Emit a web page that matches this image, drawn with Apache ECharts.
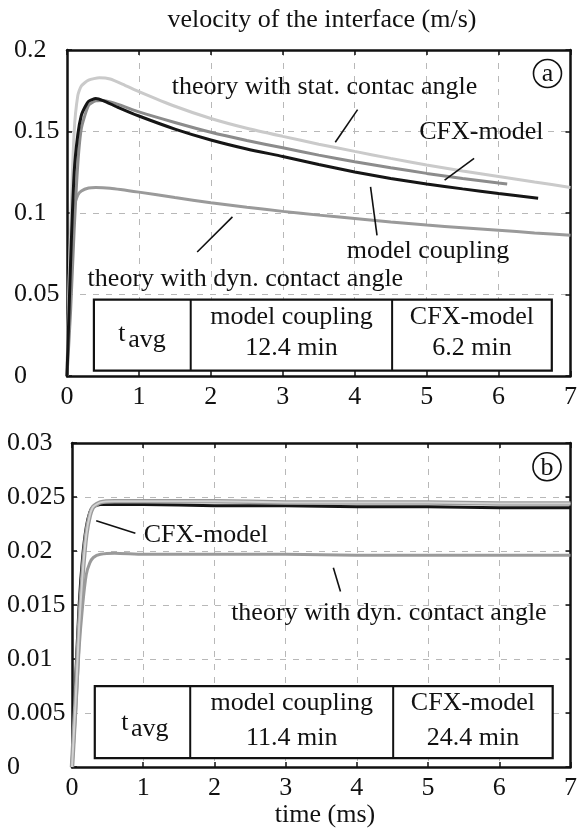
<!DOCTYPE html>
<html>
<head>
<meta charset="utf-8">
<script src="https://cdn.jsdelivr.net/npm/echarts@6/dist/echarts.min.js"></script>
<style>
  html, body { margin: 0; padding: 0; background: #fff; }
  #chart { width: 580px; height: 831px; }
</style>
</head>
<body>
<div id="chart"></div>
<script>
// panel (a): velocity of the interface
const aStatX = [0, 0.05, 0.1, 0.15, 0.2, 0.3, 0.45, 0.6, 0.8, 1, 1.5, 2, 2.5, 3, 3.5, 4, 4.5, 5, 5.5, 6, 6.5, 7];
const aStatY = [0, 0.09, 0.15, 0.172, 0.178, 0.1815, 0.183, 0.1822, 0.1785, 0.1745, 0.1655, 0.158, 0.152, 0.147, 0.1422, 0.1378, 0.1335, 0.1295, 0.1258, 0.1224, 0.119, 0.1157];
const aCfxX = [0, 0.05, 0.1, 0.15, 0.2, 0.3, 0.4, 0.5, 0.7, 1, 1.5, 2, 2.5, 3, 3.5, 4, 4.5, 5, 5.5, 6, 6.12];
const aCfxY = [0, 0.04, 0.09, 0.13, 0.152, 0.166, 0.1688, 0.169, 0.1668, 0.162, 0.1555, 0.1495, 0.1445, 0.14, 0.1355, 0.1315, 0.1278, 0.1243, 0.1212, 0.1184, 0.1178];
const aMcX = [0, 0.05, 0.1, 0.15, 0.2, 0.25, 0.3, 0.4, 0.5, 0.7, 1, 1.5, 2, 2.5, 3, 3.5, 4, 4.5, 5, 5.5, 6, 6.55];
const aMcY = [0, 0.07, 0.125, 0.148, 0.16, 0.165, 0.1685, 0.1702, 0.169, 0.165, 0.1595, 0.1515, 0.1448, 0.1393, 0.1347, 0.1298, 0.1252, 0.1212, 0.1178, 0.1148, 0.112, 0.1091];
const aDynX = [0, 0.03, 0.06, 0.1, 0.15, 0.2, 0.3, 0.4, 0.6, 1, 1.5, 2, 2.5, 3, 3.5, 4, 4.5, 5, 5.5, 6, 6.5, 7];
const aDynY = [0, 0.06, 0.09, 0.104, 0.111, 0.1135, 0.1153, 0.1157, 0.1152, 0.1128, 0.1095, 0.1063, 0.1035, 0.101, 0.0987, 0.0966, 0.0945, 0.0926, 0.091, 0.0894, 0.0878, 0.0863];

// panel (b)
const bX = [0, 0.05, 0.1, 0.15, 0.2, 0.25, 0.3, 0.4, 0.6, 1, 2, 3, 4, 5, 6, 7];
const bMcY = [0, 0.008, 0.015, 0.0195, 0.0222, 0.0236, 0.0241, 0.0243, 0.0243, 0.0243, 0.0242, 0.0242, 0.0241, 0.0241, 0.024, 0.024];
const bCfxY = [0, 0.006, 0.013, 0.018, 0.0215, 0.0233, 0.0241, 0.0245, 0.0246, 0.0246, 0.0246, 0.0245, 0.0245, 0.0245, 0.0244, 0.0244];
const bStatY = [0, 0.006, 0.013, 0.018, 0.0215, 0.0233, 0.0241, 0.0245, 0.0246, 0.0246, 0.0246, 0.0245, 0.0245, 0.0245, 0.0244, 0.0244];
const bDynY = [0, 0.005, 0.011, 0.015, 0.0178, 0.0189, 0.0194, 0.0197, 0.0198, 0.0197, 0.0197, 0.0197, 0.0196, 0.0196, 0.0196, 0.0196];

const xTicks = [0, 7, 1];          // min, max, step
const aYTicks = [0, 0.2, 0.05];
const bYTicks = [0, 0.03, 0.005];

const tableA = ['t', 'avg', 'model coupling', '12.4 min', 'CFX-model', '6.2 min'];
const tableB = ['t', 'avg', 'model coupling', '11.4 min', 'CFX-model', '24.4 min'];

const FONT = 'Liberation Serif';
const FS = 26;

function zip(xs, ys) {
  return xs.map((x, i) => [x, ys[i]]);
}

const chart = echarts.init(document.getElementById('chart'));

function xAxes(grid) {
  const base = {
    gridIndex: grid, type: 'value', min: xTicks[0], max: xTicks[1], interval: xTicks[2],
    axisLine: { onZero: false, lineStyle: { color: '#111', width: 2.5 } },
    axisTick: { inside: true, length: 5, lineStyle: { color: '#111', width: 1.5 } },
  };
  return [
    Object.assign({}, base, {
      position: 'bottom',
      axisLabel: { fontFamily: FONT, fontSize: FS, color: '#111', margin: 8 },
      splitLine: { show: true, lineStyle: { color: '#b8b8b8', type: [6, 7], width: 1 } },
    }),
    Object.assign({}, base, {
      position: 'top', axisLabel: { show: false }, splitLine: { show: false },
    }),
  ];
}

function yAxes(grid, ticks, margin) {
  const base = {
    gridIndex: grid, type: 'value', min: ticks[0], max: ticks[1], interval: ticks[2],
    axisLine: { show: true, onZero: false, lineStyle: { color: '#111', width: 2.5 } },
    axisTick: { show: true, inside: true, length: 5, lineStyle: { color: '#111', width: 1.5 } },
  };
  return [
    Object.assign({}, base, {
      position: 'left',
      axisLabel: { fontFamily: FONT, fontSize: FS, color: '#111', align: 'left', margin: margin },
      splitLine: { show: true, lineStyle: { color: '#b8b8b8', type: [6, 7], width: 1 } },
    }),
    Object.assign({}, base, {
      position: 'right', axisLabel: { show: false }, splitLine: { show: false },
    }),
  ];
}

function curve(data, xi, color, width, z) {
  return {
    type: 'line', data: data, xAxisIndex: xi, yAxisIndex: xi,
    showSymbol: false, smooth: 0.2, z: z || 2,
    lineStyle: { color: color, width: width }, silent: true,
  };
}

chart.setOption({
  animation: false,
  grid: [
    { left: 67, top: 50, width: 505, height: 326 },
    { left: 72, top: 443, width: 500, height: 324 },
  ],
  xAxis: xAxes(0).concat(xAxes(1)),
  yAxis: yAxes(0, aYTicks, 53).concat(yAxes(1, bYTicks, 65)),
  series: [
    curve(zip(aDynX, aDynY), 0, '#9a9a9a', 3),
    curve(zip(aStatX, aStatY), 0, '#cacaca', 3),
    curve(zip(aCfxX, aCfxY), 0, '#8c8c8c', 3),
    curve(zip(aMcX, aMcY), 0, '#151515', 3, 3),
    curve(zip(bX, bDynY), 2, '#9a9a9a', 3),
    curve(zip(bX, bMcY), 2, '#151515', 3, 3),
    curve(zip(bX, bCfxY), 2, '#9a9a9a', 4.5, 4),
    curve(zip(bX, bStatY), 2, '#d2d2d2', 2, 5),
  ],
});

// annotations, placed in data coordinates
function px(grid, p) {
  return chart.convertToPixel({ gridIndex: grid }, p);
}
function text(grid, p, str, extra) {
  const q = px(grid, p);
  return {
    type: 'text', x: q[0], y: q[1], z: 10,
    style: Object.assign({ text: str, font: FS + 'px "' + FONT + '"', fill: '#111',
      align: 'center', verticalAlign: 'middle' }, extra || {}),
  };
}
function line(grid, p1, p2, w) {
  const a = px(grid, p1), b = px(grid, p2);
  return {
    type: 'line', z: 10,
    shape: { x1: a[0], y1: a[1], x2: b[0], y2: b[1] },
    style: { stroke: '#111', lineWidth: w || 1.6 },
  };
}
function badge(grid, p, str) {
  const q = px(grid, p);
  return [
    { type: 'circle', z: 10, shape: { cx: q[0], cy: q[1], r: 14 },
      style: { fill: '#fff', stroke: '#111', lineWidth: 1.6 } },
    { type: 'text', z: 11, x: q[0], y: q[1] + 1,
      style: { text: str, font: FS + 'px "' + FONT + '"', fill: '#111', align: 'center', verticalAlign: 'middle' } },
  ];
}
function table(grid, x0, x1, y0, y1, d1, d2, cells, rows, tPos) {
  const tl = px(grid, [x0, y1]), br = px(grid, [x1, y0]);
  const a = px(grid, [d1, y0]), b = px(grid, [d2, y0]);
  const out = [
    { type: 'rect', z: 10, shape: { x: tl[0], y: tl[1], width: br[0] - tl[0], height: br[1] - tl[1] },
      style: { fill: '#fff', stroke: '#111', lineWidth: 2.2 } },
    { type: 'line', z: 11, shape: { x1: a[0], y1: tl[1], x2: a[0], y2: br[1] }, style: { stroke: '#111', lineWidth: 2 } },
    { type: 'line', z: 11, shape: { x1: b[0], y1: tl[1], x2: b[0], y2: br[1] }, style: { stroke: '#111', lineWidth: 2 } },
  ];
  const t = px(grid, tPos);
  out.push({ type: 'text', z: 12, x: t[0] - 17, y: t[1] - 3,
    style: { text: cells[0], font: FS + 'px "' + FONT + '"', fill: '#111', align: 'center', verticalAlign: 'middle' } });
  out.push({ type: 'text', z: 12, x: t[0] + 8, y: t[1] + 3,
    style: { text: cells[1], font: FS + 'px "' + FONT + '"', fill: '#111', align: 'center', verticalAlign: 'middle' } });
  const c1 = (d1 + d2) / 2, c2 = (d2 + x1) / 2;
  out.push(text(grid, [c1, rows[0]], cells[2]));
  out.push(text(grid, [c1, rows[1]], cells[3]));
  out.push(text(grid, [c2, rows[0]], cells[4]));
  out.push(text(grid, [c2, rows[1]], cells[5]));
  return out;
}

const g = [];
g.push({ type: 'text', x: 322, y: 20, style: { text: 'velocity of the interface (m/s)',
  font: FS + 'px "' + FONT + '"', fill: '#111', align: 'center', verticalAlign: 'middle' } });
g.push({ type: 'text', x: 325, y: 815, style: { text: 'time (ms)',
  font: FS + 'px "' + FONT + '"', fill: '#111', align: 'center', verticalAlign: 'middle' } });

// panel (a)
g.push(text(0, [3.58, 0.1774], 'theory with stat. contac angle'));
g.push(line(0, [4.04, 0.1634], [3.73, 0.1434]));
g.push(text(0, [5.76, 0.1494], 'CFX-model'));
g.push(line(0, [5.66, 0.1335], [5.25, 0.1202]));
g.push(text(0, [5.02, 0.0767], 'model coupling'));
g.push(line(0, [4.22, 0.116], [4.31, 0.0863]));
g.push(text(0, [2.48, 0.0596], 'theory with dyn. contact angle'));
g.push(line(0, [2.30, 0.0976], [1.81, 0.0761]));
badge(0, [6.68, 0.1856], 'a').forEach(e => g.push(e));
table(0, 0.374, 6.74, 0.0033, 0.0469, 1.72, 4.52, tableA, [0.0358, 0.0172], [1.0, 0.024]).forEach(e => g.push(e));

// panel (b)
g.push(text(1, [1.88, 0.0215], 'CFX-model'));
g.push(line(1, [0.34, 0.0228], [0.89, 0.02165]));
g.push(text(1, [4.45, 0.0142], 'theory with dyn. contact angle'));
g.push(line(1, [3.67, 0.01845], [3.77, 0.01625]));
badge(1, [6.67, 0.0278], 'b').forEach(e => g.push(e));
table(1, 0.32, 6.75, 0.00082, 0.00748, 1.66, 4.51, tableB, [0.0059, 0.0027], [0.98, 0.0038]).forEach(e => g.push(e));

chart.setOption({ graphic: g });
</script>
</body>
</html>
